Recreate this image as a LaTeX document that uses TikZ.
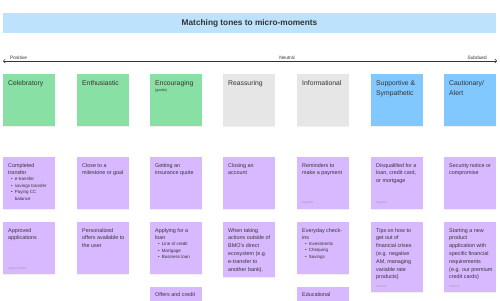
\documentclass[tikz,border=0pt]{standalone}
\usepackage{fontspec}
\setmainfont{Liberation Sans}
\usetikzlibrary{arrows.meta, positioning, shadows}

\definecolor{toneGreen}{HTML}{88E0A5}
\definecolor{toneGray}{HTML}{E6E6E6}
\definecolor{toneBlue}{HTML}{80C8FF}
\definecolor{notePurple}{HTML}{D8B9FF}
\definecolor{titleBlue}{HTML}{BDE3FC}
\definecolor{inkGray}{HTML}{333333}

\newcommand{\bul}[1]{\textbullet\hspace{2pt}#1}
\newcommand{\bulgap}{\phantom{\textbullet}\hspace{2pt}}

\tikzset{
  sticky/.style={anchor=north west, inner sep=0pt, minimum width=52pt, minimum height=52pt,
    drop shadow={opacity=0.12, shadow xshift=0pt, shadow yshift=-0.6pt}},
  tonetext/.style={inner sep=0pt, align=left, text=inkGray, font=\fontsize{6.8}{10}\selectfont},
  notetext/.style={inner sep=0pt, align=left, text=inkGray, font=\fontsize{5.4}{7.8}\selectfont},
  bullettext/.style={inner sep=0pt, align=left, text=inkGray, font=\fontsize{4.5}{6.5}\selectfont},
  signtext/.style={inner sep=0pt, text=black!40, font=\fontsize{2.8}{3}\selectfont},
  axislabel/.style={inner sep=0pt, text=inkGray, font=\fontsize{4.8}{5}\selectfont}
}

\begin{document}
\begin{tikzpicture}[x=1pt, y=-1pt]
    \clip (0,0) rectangle (500,300);

    % Title bar
    \node[fill=titleBlue, minimum width=493pt, minimum height=20pt, inner sep=0pt,
      text=inkGray, font=\bfseries\fontsize{8.3}{10}\selectfont] (title) at (249.5,23) {Matching tones to micro-moments};

    % Tone scale
    \coordinate (scaleleft) at (3,61);
    \coordinate (scaleright) at (497,61);
    \draw[inkGray, line width=0.5pt, {Straight Barb[length=2pt,width=4pt]}-{Straight Barb[length=2pt,width=4pt]}] (scaleleft) -- (scaleright);
    \node[axislabel, anchor=south west] (positive) at (10,59.5) {Positive};
    \node[axislabel, anchor=south] (neutral) at (287,59.5) {Neutral};
    \node[axislabel, anchor=south east] (subdued) at (487,59.5) {Subdued};

    % Tone headers
    \foreach \i/\x/\col/\name in {1/3/toneGreen/Celebratory, 2/77/toneGreen/Enthusiastic,
        3/150/toneGreen/Encouraging, 4/223/toneGray/Reassuring, 5/297/toneGray/Informational,
        6/371/toneBlue/{Supportive \&\\Sympathetic}, 7/444/toneBlue/{Cautionary/\\Alert}} {
      \node[sticky, fill=\col] (tone\i) at (\x,74) {};
      \node[tonetext, below right=6.5pt and 5pt of tone\i.north west] (tonelabel\i) {\name};
    }
    \node[signtext, text=inkGray, font=\fontsize{3.5}{4}\selectfont, below right=2pt and 0pt of tonelabel3.south west] (gentle) {(gentle)};

    % Micro-moments, first row
    \node[sticky, fill=notePurple] (note1a) at (3,157) {};
    \node[notetext, below right=6pt and 5pt of note1a.north west] (text1a) {Completed\\transfer};
    \node[bullettext, below right=2pt and 3pt of text1a.south west] (list1a) {\bul{e-transfer}\\\bul{savings transfer}\\\bul{Paying CC}\\\bulgap balance};

    \node[sticky, fill=notePurple] (note2a) at (77,157) {};
    \node[notetext, below right=6pt and 5pt of note2a.north west] (text2a) {Close to a\\milestone or goal};

    \node[sticky, fill=notePurple] (note3a) at (150,157) {};
    \node[notetext, below right=6pt and 5pt of note3a.north west] (text3a) {Getting an\\insurance quote};

    \node[sticky, fill=notePurple] (note4a) at (223,157) {};
    \node[notetext, below right=6pt and 5pt of note4a.north west] (text4a) {Closing an\\account};

    \node[sticky, fill=notePurple] (note5a) at (297,157) {};
    \node[notetext, below right=6pt and 5pt of note5a.north west] (text5a) {Reminders to\\make a payment};
    \node[signtext, above right=5pt and 5pt of note5a.south west] (sign5a) {Tanysha};

    \node[sticky, fill=notePurple] (note6a) at (371,157) {};
    \node[notetext, below right=6pt and 5pt of note6a.north west] (text6a) {Disqualified for a\\loan, credit card,\\or mortgage};
    \node[signtext, above right=5pt and 5pt of note6a.south west] (sign6a) {Tanysha};

    \node[sticky, fill=notePurple] (note7a) at (444,157) {};
    \node[notetext, below right=6pt and 5pt of note7a.north west] (text7a) {Security notice or\\compromise};

    % Micro-moments, second row
    \node[sticky, fill=notePurple] (note1b) at (3,222) {};
    \node[notetext, below right=6pt and 5pt of note1b.north west] (text1b) {Approved\\applications};
    \node[signtext, above right=5pt and 5pt of note1b.south west] (sign1b) {Andrew Welch};

    \node[sticky, fill=notePurple] (note2b) at (77,222) {};
    \node[notetext, below right=6pt and 5pt of note2b.north west] (text2b) {Personalized\\offers available to\\the user};

    \node[sticky, fill=notePurple] (note3b) at (150,222) {};
    \node[notetext, below right=6pt and 5pt of note3b.north west] (text3b) {Applying for a\\loan};
    \node[bullettext, below right=2pt and 3pt of text3b.south west] (list3b) {\bul{Line of credit}\\\bul{Mortgage}\\\bul{Business loan}};

    \node[sticky, fill=notePurple, minimum height=55pt] (note4b) at (223,222) {};
    \node[notetext, below right=6pt and 5pt of note4b.north west] (text4b) {When taking\\actions outside of\\BMO's direct\\ecosystem (e.g.\\e-transfer to\\another bank).};

    \node[sticky, fill=notePurple] (note5b) at (297,222) {};
    \node[notetext, below right=6pt and 5pt of note5b.north west] (text5b) {Everyday check-\\ins};
    \node[bullettext, below right=2pt and 3pt of text5b.south west] (list5b) {\bul{Investments}\\\bul{Chequing}\\\bul{Savings}};

    \node[sticky, fill=notePurple, minimum height=70pt] (note6b) at (371,222) {};
    \node[notetext, below right=6pt and 5pt of note6b.north west] (text6b) {Tips on how to\\get out of\\financial crises\\(e.g. negative\\AM, managing\\variable rate\\products)};
    \node[signtext, above right=5pt and 5pt of note6b.south west] (sign6b) {Julie Do};

    \node[sticky, fill=notePurple, minimum height=70pt] (note7b) at (444,222) {};
    \node[notetext, below right=6pt and 5pt of note7b.north west] (text7b) {Starting a new\\product\\application with\\specific financial\\requirements\\(e.g. our premium\\credit cards)};
    \node[signtext, above right=5pt and 5pt of note7b.south west] (sign7b) {Julie Do};

    % Micro-moments, third row (cut off)
    \node[sticky, fill=notePurple] (note3c) at (150,287) {};
    \node[notetext, below right=5.5pt and 5pt of note3c.north west] (text3c) {Offers and credit};

    \node[sticky, fill=notePurple] (note5c) at (297,287) {};
    \node[notetext, below right=5.5pt and 5pt of note5c.north west] (text5c) {Educational};
\end{tikzpicture}
\end{document}
